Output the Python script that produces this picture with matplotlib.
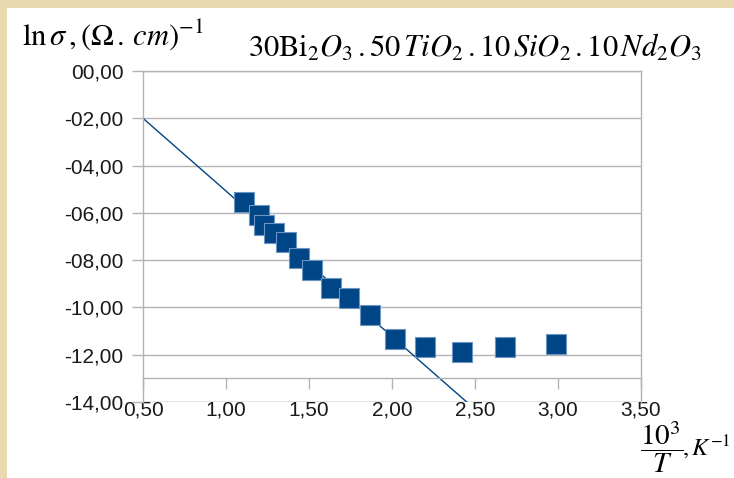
import matplotlib
matplotlib.use("Agg")
import matplotlib.pyplot as plt
from matplotlib.patches import Rectangle

# Data
inv_temp = [1.11, 1.20, 1.23, 1.29, 1.36, 1.44, 1.52, 1.63, 1.74, 1.87, 2.02, 2.20, 2.42, 2.68, 2.99]
ln_sigma = [-5.52, -6.11, -6.53, -6.87, -7.25, -7.89, -8.40, -9.16, -9.59, -10.31, -11.33, -11.67, -11.88, -11.67, -11.54]

# Straight fit line (start and end points)
fit_x = [0.50, 2.45]
fit_y = [-2.00, -14.00]

x_ticks = [0.5, 1.0, 1.5, 2.0, 2.5, 3.0, 3.5]
x_labels = ["0,50", "1,00", "1,50", "2,00", "2,50", "3,00", "3,50"]
y_ticks = [0, -2, -4, -6, -8, -10, -12, -14]
y_labels = ["00,00", "-02,00", "-04,00", "-06,00", "-08,00", "-10,00", "-12,00", "-14,00"]

plt.rcParams["font.family"] = ["Liberation Sans", "DejaVu Sans"]
plt.rcParams["mathtext.fontset"] = "stix"

W, H = 734, 478
fig = plt.figure(figsize=(W / 100, H / 100), dpi=100)
fig.patch.set_facecolor("#e8d9b0")
# white panel inside the beige frame
fig.patches.append(Rectangle((7 / W, 0), 1, 1 - 8 / H, transform=fig.transFigure,
                             facecolor="white", edgecolor="none", zorder=-10))

ax = fig.add_axes([143 / W, 1 - 402 / H, (641 - 143) / W, (402 - 71) / H])
ax.set_zorder(5)
ax.set_facecolor("white")

ax.plot(fit_x, fit_y, color="#004586", linewidth=1.0, zorder=2)
ax.plot(inv_temp, ln_sigma, linestyle="none", marker="s", markersize=14.5,
        markerfacecolor="#004586", markeredgecolor="#6d95c4", markeredgewidth=0.8, zorder=3)

ax.set_xlim(0.5, 3.5)
ax.set_ylim(-14, 0)
ax.set_xticks(x_ticks)
ax.set_xticklabels(x_labels)
ax.set_yticks(y_ticks)
ax.set_yticklabels(y_labels)

ax.yaxis.grid(True, color="#b3b3b3", linewidth=1.0)
ax.set_axisbelow(True)

for s in ["left", "right", "top", "bottom"]:
    ax.spines[s].set_color("#b3b3b3")
    ax.spines[s].set_linewidth(1.0)
# the x axis crosses at -13
ax.spines["bottom"].set_position(("data", -13))
ax.axhline(-14, color="#b3b3b3", linewidth=1.0, zorder=1)

ax.tick_params(axis="x", direction="out", length=8, width=1.0, color="#b3b3b3",
               pad=8, labelsize=15, labelcolor="#1a1a1a")
ax.tick_params(axis="y", direction="out", length=8, width=1.0, color="#b3b3b3",
               pad=6, labelsize=15, labelcolor="#1a1a1a")

# Axis titles and formula
fig.text(22 / W, 1 - 44 / H, r"$\mathrm{ln}\,\sigma\,,(\Omega\,.\,cm)^{-1}$",
         fontsize=22, color="black", ha="left", va="baseline")
fig.text(248 / W, 1 - 57 / H,
         r"$30\mathrm{Bi}_2O_3\,.50\,TiO_2\,.10\,SiO_2\,.10\,Nd_2O_3$",
         fontsize=22, color="black", ha="left", va="baseline")
# x axis title: 10^3/T, K^-1
fig.text(640 / W, 1 - 447 / H, r"$\dfrac{10^3}{T}$",
         fontsize=21, color="black", ha="left", va="center")
fig.text(682 / W, 1 - 456 / H, r"$,K^{-1}$",
         fontsize=17.5, color="black", ha="left", va="baseline")

fig.savefig("out.png", dpi=100, facecolor=fig.get_facecolor())
